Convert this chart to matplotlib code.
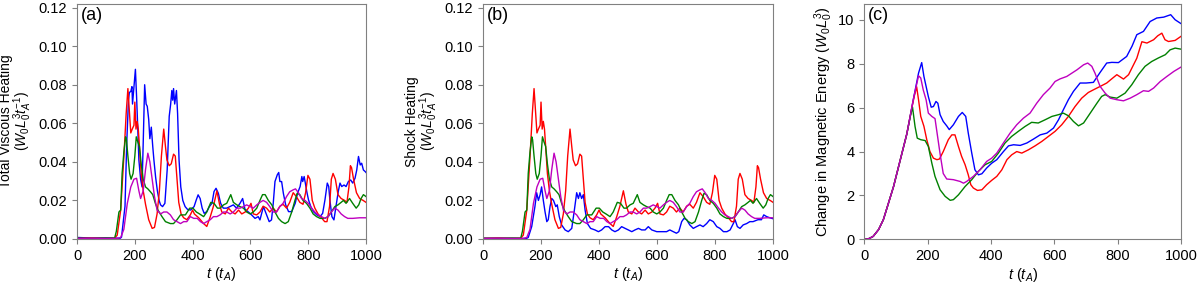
import numpy as np
import matplotlib
matplotlib.use("Agg")
import matplotlib.pyplot as plt

plt.rcParams['font.family'] = ['Liberation Sans', 'DejaVu Sans']
plt.rcParams['mathtext.fontset'] = 'custom'
plt.rcParams['mathtext.rm'] = 'Liberation Sans'
plt.rcParams['mathtext.it'] = 'Liberation Sans:italic'
plt.rcParams['mathtext.bf'] = 'Liberation Sans:bold'

# ---------------- heating data (panels a, b) ----------------
# red, green, magenta are common to both panels; blue differs
t_red = [0, 50, 100, 130, 139, 151, 163, 170, 176, 186, 191, 197, 200, 204, 208, 212, 216, 222, 229, 237,
         248, 260, 268, 277, 285, 292, 300, 306, 311, 319, 326, 334, 340, 346, 352, 360, 369, 380, 392, 400,
         406, 421, 438, 449, 461, 472, 484, 493, 501, 513, 524, 536, 547, 559, 570, 582, 593, 602, 610, 622,
         633, 644, 656, 667, 679, 690, 702, 713, 725, 736, 748, 759, 771, 782, 791, 799, 806, 814, 823, 834,
         846, 857, 865, 874, 880, 886, 894, 903, 914, 926, 934, 941, 946, 950, 957, 967, 978, 990, 1000]
heat_red = [0.0003, 0.0005, 0.0003, 0.0004, 0.002, 0.015, 0.045, 0.065, 0.078, 0.055, 0.057, 0.059, 0.071, 0.057,
            0.061, 0.057, 0.048, 0.034, 0.025, 0.018, 0.010, 0.0055, 0.006, 0.013, 0.025, 0.043, 0.057, 0.048,
            0.041, 0.038, 0.039, 0.044, 0.043, 0.031, 0.019, 0.013, 0.011, 0.010, 0.0125, 0.015, 0.013, 0.011,
            0.008, 0.0065, 0.0115, 0.017, 0.025, 0.018, 0.014, 0.013, 0.016, 0.014, 0.013, 0.015, 0.013, 0.014,
            0.016, 0.0185, 0.013, 0.0125, 0.014, 0.017, 0.016, 0.014, 0.016, 0.014, 0.017, 0.018, 0.016, 0.019,
            0.024, 0.022, 0.019, 0.018, 0.024, 0.033, 0.031, 0.020, 0.016, 0.013, 0.011, 0.009, 0.009, 0.017,
            0.031, 0.034, 0.031, 0.023, 0.021, 0.020, 0.019, 0.027, 0.038, 0.037, 0.031, 0.024, 0.021, 0.020, 0.019]

t_green = [0, 50, 100, 130, 136, 145, 151, 156, 162, 168, 171, 176, 182, 187, 194, 200, 205, 210, 216, 222,
           229, 237, 245, 254, 262, 271, 280, 294, 306, 323, 334, 346, 358, 375, 390, 401, 413, 424, 438, 449,
           463, 474, 486, 495, 507, 518, 532, 541, 553, 564, 576, 587, 599, 610, 622, 633, 642, 651, 662, 674,
           685, 697, 708, 720, 731, 743, 754, 762, 771, 782, 794, 806, 817, 829, 841, 857, 869, 880, 892, 903,
           914, 922, 931, 943, 954, 966, 975, 983, 991, 1000]
heat_green = [0.0004, 0.0003, 0.0005, 0.0004, 0.004, 0.014, 0.015, 0.034, 0.045, 0.053, 0.0515, 0.043, 0.034,
              0.031, 0.034, 0.043, 0.053, 0.0505, 0.048, 0.039, 0.031, 0.027, 0.026, 0.0245, 0.023, 0.0185, 0.015,
              0.0116, 0.009, 0.008, 0.008, 0.010, 0.0125, 0.0125, 0.016, 0.016, 0.014, 0.013, 0.0116, 0.014, 0.019,
              0.0185, 0.016, 0.016, 0.0177, 0.0185, 0.023, 0.019, 0.0177, 0.0168, 0.016, 0.014, 0.013, 0.014,
              0.016, 0.020, 0.023, 0.023, 0.020, 0.0177, 0.014, 0.0107, 0.009, 0.008, 0.009, 0.014, 0.020, 0.0237,
              0.023, 0.020, 0.0185, 0.016, 0.013, 0.0116, 0.0107, 0.0107, 0.0116, 0.014, 0.0168, 0.0177, 0.019,
              0.020, 0.0185, 0.021, 0.0185, 0.016, 0.0177, 0.021, 0.023, 0.022]

t_mag = [0, 50, 100, 140, 151, 162, 174, 186, 197, 206, 214, 220, 229, 237, 245, 252, 260, 268, 277, 289,
         300, 311, 323, 334, 346, 358, 369, 380, 392, 404, 416, 427, 438, 449, 461, 472, 484, 495, 507, 518,
         530, 541, 553, 564, 576, 587, 599, 610, 622, 633, 644, 656, 667, 679, 690, 702, 713, 725, 736, 748,
         756, 766, 777, 789, 800, 812, 823, 834, 846, 857, 869, 880, 892, 903, 914, 926, 937, 954, 978, 1000]
heat_mag = [0.0003, 0.0004, 0.0003, 0.0003, 0.0008, 0.005, 0.0185, 0.027, 0.031, 0.0315, 0.025, 0.021, 0.025,
            0.036, 0.0445, 0.040, 0.031, 0.022, 0.015, 0.013, 0.014, 0.014, 0.0125, 0.010, 0.009, 0.008, 0.009,
            0.009, 0.0116, 0.0107, 0.0107, 0.009, 0.008, 0.009, 0.010, 0.0116, 0.0116, 0.0125, 0.014, 0.014,
            0.013, 0.014, 0.016, 0.016, 0.0168, 0.0177, 0.0168, 0.016, 0.0177, 0.019, 0.020, 0.019, 0.0168,
            0.014, 0.014, 0.0168, 0.0185, 0.022, 0.0245, 0.0255, 0.026, 0.024, 0.021, 0.020, 0.0185, 0.016,
            0.014, 0.0125, 0.0116, 0.0107, 0.0116, 0.014, 0.016, 0.015, 0.013, 0.0116, 0.0107, 0.0107, 0.011, 0.011]

t_blue_a = [0, 50, 100, 150, 154, 166, 172, 178, 181, 186, 190, 192, 197, 202, 206, 210, 214, 220, 225, 229,
            234, 239, 243, 248, 252, 257, 262, 266, 272, 278, 284, 289, 296, 304, 312, 319, 324, 328, 331, 334,
            338, 344, 348, 353, 359, 366, 374, 382, 393, 405, 412, 419, 426, 433, 440, 449, 458, 467, 474, 481,
            489, 497, 506, 518, 529, 541, 552, 564, 573, 581, 593, 604, 616, 627, 633, 645, 656, 665, 673, 679,
            685, 693, 698, 702, 708, 714, 722, 732, 743, 755, 763, 772, 778, 781, 786, 790, 795, 801, 809, 818,
            830, 841, 850, 858, 866, 871, 875, 882, 889, 896, 904, 910, 916, 924, 931, 939, 947, 954, 962, 968,
            974, 980, 985, 991, 997, 1000]
visc_blue = [0.0008, 0.0005, 0.0006, 0.0004, 0.001, 0.017, 0.050, 0.072, 0.076, 0.0765, 0.079, 0.070, 0.079,
             0.088, 0.074, 0.058, 0.041, 0.031, 0.027, 0.050, 0.080, 0.070, 0.0688, 0.062, 0.052, 0.058, 0.048,
             0.041, 0.032, 0.025, 0.020, 0.0177, 0.0168, 0.0185, 0.036, 0.0636, 0.070, 0.077, 0.072, 0.078, 0.070,
             0.077, 0.065, 0.041, 0.027, 0.020, 0.0168, 0.0154, 0.015, 0.0168, 0.020, 0.0229, 0.021, 0.016, 0.0133,
             0.0142, 0.0168, 0.0185, 0.0246, 0.0263, 0.0237, 0.0185, 0.016, 0.016, 0.0168, 0.0177, 0.016, 0.0185,
             0.021, 0.0155, 0.014, 0.0125, 0.0107, 0.0116, 0.0099, 0.0168, 0.0125, 0.009, 0.0099, 0.0185, 0.0298,
             0.0333, 0.0345, 0.0298, 0.0298, 0.0237, 0.0177, 0.0142, 0.0142, 0.0185, 0.0237, 0.0272, 0.0324,
             0.0298, 0.0324, 0.029, 0.0246, 0.0203, 0.0168, 0.0142, 0.0125, 0.0116, 0.0133, 0.0203, 0.029, 0.0272,
             0.0203, 0.0116, 0.0099, 0.0168, 0.0246, 0.029, 0.0272, 0.028, 0.0272, 0.0298, 0.0306, 0.029, 0.0315,
             0.0358, 0.0428, 0.0384, 0.0393, 0.0358, 0.035, 0.0345]

t_blue_b = [0, 50, 100, 150, 156, 168, 179, 185, 191, 197, 202, 208, 214, 220, 225, 231, 237, 243, 251, 256,
            263, 271, 283, 294, 306, 315, 323, 329, 334, 340, 346, 352, 360, 371, 386, 398, 409, 421, 433, 444,
            455, 467, 478, 490, 501, 513, 524, 536, 547, 559, 570, 582, 599, 616, 633, 644, 656, 667, 675, 685,
            693, 702, 713, 725, 736, 748, 759, 771, 782, 794, 806, 817, 829, 841, 852, 863, 869, 877, 886, 897,
            909, 920, 931, 948, 960, 968, 978, 989, 1000]
shock_blue = [0.0003, 0.0004, 0.0003, 0.0003, 0.0008, 0.0065, 0.0168, 0.024, 0.020, 0.023, 0.027, 0.020, 0.014,
              0.009, 0.010, 0.0168, 0.021, 0.020, 0.0168, 0.0177, 0.0116, 0.0073, 0.0047, 0.0038, 0.0055, 0.015,
              0.024, 0.021, 0.024, 0.021, 0.023, 0.015, 0.008, 0.0055, 0.0047, 0.0038, 0.0047, 0.0064, 0.0064,
              0.0047, 0.0038, 0.0047, 0.0064, 0.0055, 0.0047, 0.0038, 0.0047, 0.0055, 0.0047, 0.0047, 0.0064,
              0.0047, 0.0038, 0.0038, 0.0038, 0.0047, 0.0038, 0.003, 0.0038, 0.009, 0.0107, 0.010, 0.0073, 0.0055,
              0.0064, 0.0073, 0.0064, 0.008, 0.010, 0.009, 0.0064, 0.0055, 0.0038, 0.0038, 0.0047, 0.008, 0.010,
              0.0064, 0.0055, 0.0073, 0.008, 0.009, 0.009, 0.010, 0.010, 0.0125, 0.0116, 0.011, 0.0105]

# ---------------- magnetic energy data (panel c) ----------------
t_rise = [0, 15, 28, 45, 60, 75, 92, 113, 134]
me_rise = [0, 0.04, 0.14, 0.45, 0.9, 1.6, 2.4, 3.6, 4.8]

t_me_mag = [155, 171, 178, 186, 195, 202, 213, 223, 231, 239, 249, 260, 281, 302, 313, 323, 344, 365, 386, 402,
            418, 439, 460, 481, 502, 523, 544, 565, 586, 602, 618, 639, 655, 671, 692, 705, 718, 728, 744, 760,
            776, 797, 818, 839, 860, 881, 897, 913, 934, 955, 977, 1000]
me_mag = [6.4, 7.45, 7.35, 6.8, 6.35, 5.75, 5.6, 5.5, 4.7, 3.9, 3.0, 2.75, 2.72, 2.64, 2.56, 2.64, 2.87, 3.17,
          3.55, 3.7, 3.93, 4.39, 4.84, 5.22, 5.52, 5.75, 6.2, 6.59, 6.89, 7.19, 7.31, 7.42, 7.57, 7.72, 7.95, 8.03,
          7.88, 7.57, 6.97, 6.66, 6.43, 6.36, 6.31, 6.43, 6.59, 6.77, 6.74, 6.89, 7.19, 7.42, 7.65, 7.85]

t_me_blue = [155, 171, 181, 188, 202, 211, 218, 226, 232, 239, 249, 260, 268, 281, 297, 309, 320, 328, 339, 349,
             360, 371, 386, 402, 418, 439, 455, 471, 492, 513, 534, 555, 576, 597, 613, 628, 644, 660, 681, 700,
             723, 744, 765, 781, 802, 828, 845, 860, 881, 902, 923, 945, 967, 981, 1000]
me_blue = [6.4, 7.57, 8.05, 7.42, 6.5, 6.02, 6.05, 6.28, 6.2, 5.68, 5.37, 5.17, 5.0, 5.22, 5.6, 5.78, 5.6, 4.84,
           3.93, 3.17, 2.94, 2.99, 3.25, 3.47, 3.63, 4.0, 4.26, 4.31, 4.28, 4.39, 4.57, 4.76, 4.84, 5.07, 5.45,
           5.9, 6.36, 6.74, 7.12, 7.12, 7.15, 7.6, 8.03, 8.06, 8.05, 8.33, 8.8, 9.32, 9.47, 9.92, 10.08, 10.12,
           10.23, 10.0, 9.82]

t_me_red = [150, 158, 165, 171, 178, 188, 197, 207, 218, 229, 237, 249, 265, 276, 286, 297, 307, 318, 328, 336,
            344, 357, 371, 386, 402, 418, 434, 450, 465, 481, 497, 518, 539, 560, 581, 602, 623, 644, 665, 686,
            707, 723, 749, 765, 780, 797, 818, 834, 860, 876, 892, 913, 926, 939, 949, 960, 981, 1000]
me_red = [6.0, 6.55, 6.95, 6.36, 5.6, 5.15, 4.54, 4.0, 3.7, 3.63, 3.66, 4.0, 4.54, 4.76, 4.76, 4.23, 3.78, 3.4,
          2.94, 2.49, 2.34, 2.23, 2.26, 2.49, 2.69, 2.87, 3.17, 3.63, 3.85, 4.0, 3.93, 4.08, 4.26, 4.46, 4.69,
          4.92, 5.22, 5.6, 6.05, 6.43, 6.69, 6.81, 7.0, 7.12, 7.3, 7.5, 7.3, 7.5, 8.25, 9.0, 8.94, 9.09, 9.27,
          9.39, 9.09, 9.01, 9.06, 9.25]

t_me_green = [145, 152, 160, 167, 178, 192, 202, 213, 223, 239, 255, 271, 281, 297, 318, 339, 360, 381, 402,
              423, 444, 465, 486, 507, 528, 549, 571, 592, 613, 628, 644, 660, 676, 692, 713, 734, 749, 760, 776,
              797, 823, 844, 865, 886, 907, 928, 950, 965, 981, 1000]
me_green = [5.6, 6.02, 5.14, 4.61, 4.54, 4.5, 4.23, 3.47, 2.87, 2.26, 1.96, 1.78, 1.81, 2.03, 2.41, 2.72, 3.1,
            3.4, 3.55, 3.93, 4.39, 4.69, 4.92, 5.14, 5.33, 5.3, 5.45, 5.6, 5.68, 5.75, 5.63, 5.37, 5.17, 5.3,
            5.75, 6.2, 6.51, 6.59, 6.48, 6.43, 6.66, 7.04, 7.5, 7.88, 8.1, 8.26, 8.41, 8.63, 8.71, 8.66]

colors = {'blue': 'b', 'red': 'r', 'green': 'g', 'mag': 'm'}

fig = plt.figure(figsize=(12, 2.82), dpi=100)
axa = fig.add_axes([0.0642, 0.1525, 0.2408, 0.8335])
axb = fig.add_axes([0.4025, 0.1525, 0.2417, 0.8335])
axc = fig.add_axes([0.7203, 0.1510, 0.2640, 0.8350])

lw = 1.0
for ax, tb, vb in [(axa, t_blue_a, visc_blue), (axb, t_blue_b, shock_blue)]:
    ax.plot(tb, vb, color=colors['blue'], lw=lw)
    ax.plot(t_red, heat_red, color=colors['red'], lw=lw)
    ax.plot(t_green, heat_green, color=colors['green'], lw=lw)
    ax.plot(t_mag, heat_mag, color=colors['mag'], lw=lw)
    ax.set_ylim(0, 0.1219)
    ax.set_yticks([0, 0.02, 0.04, 0.06, 0.08, 0.10, 0.12])

axc.plot(t_rise + t_me_blue, me_rise + me_blue, color=colors['blue'], lw=lw)
axc.plot(t_rise + t_me_red, me_rise + me_red, color=colors['red'], lw=lw)
axc.plot(t_rise + t_me_green, me_rise + me_green, color=colors['green'], lw=lw)
axc.plot(t_rise + t_me_mag, me_rise + me_mag, color=colors['mag'], lw=lw)
axc.set_ylim(0, 10.72)
axc.set_yticks([0, 2, 4, 6, 8, 10])

axa.set_ylabel('Total Viscous Heating\n($W_0L_0^3t_A^{-1}$)', fontsize=10, linespacing=0.9)
axb.set_ylabel('Shock Heating\n($W_0L_0^3t_A^{-1}$)', fontsize=10, linespacing=0.9)
axc.set_ylabel('Change in Magnetic Energy ($W_0L_0^3$)', fontsize=10.5)
axa.yaxis.set_label_coords(-0.148, 0.5)
axb.yaxis.set_label_coords(-0.148, 0.5)
axc.yaxis.set_label_coords(-0.094, 0.5)

for ax, lab in [(axa, '(a)'), (axb, '(b)'), (axc, '(c)')]:
    ax.set_xlim(0, 1000)
    ax.set_xticks([0, 200, 400, 600, 800, 1000])
    ax.set_xlabel('$t$ ($t_A$)', fontsize=10.5, labelpad=2)
    ax.tick_params(labelsize=10.5, color='#808080', length=3.5, width=0.8)
    for s in ax.spines.values():
        s.set_color('#808080')
    ax.text(0.012, 0.985, lab, transform=ax.transAxes, ha='left', va='top', fontsize=13)

fig.savefig('out.png', dpi=100)
